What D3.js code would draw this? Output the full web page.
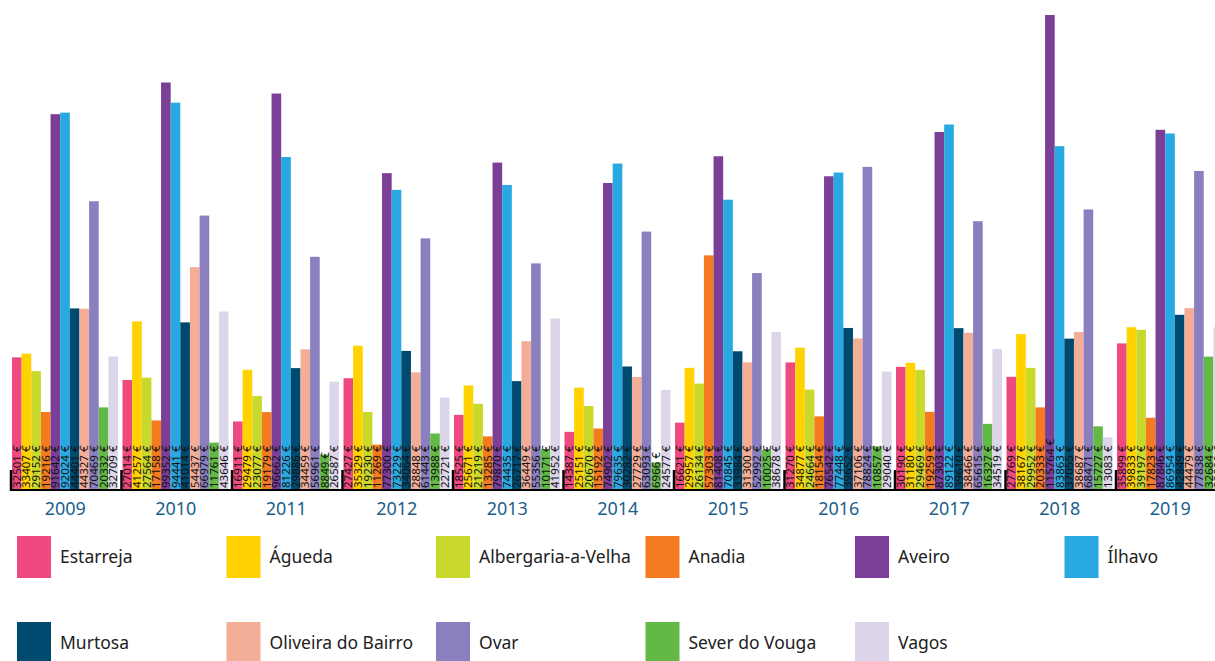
<!DOCTYPE html>
<html>
<head>
<meta charset="utf-8">
<script src="https://cdn.jsdelivr.net/npm/d3@7"></script>
<style>
  html, body { margin: 0; padding: 0; background: #fff; overflow: hidden; }
  svg { display: block; }
</style>
</head>
<body>
<svg id="chart" width="1215" height="661"></svg>
<script>
// Years on the category axis
const years = ["2009", "2010", "2011", "2012", "2013", "2014", "2015", "2016", "2017", "2018", "2019"];

// Municipalities (one bar per municipality in each year)
const municipalities = ["Estarreja", "Águeda", "Albergaria-a-Velha", "Anadia", "Aveiro", "Ílhavo",
  "Murtosa", "Oliveira do Bairro", "Ovar", "Sever do Vouga", "Vagos"];

const colors = ["#ee4a80", "#ffd200", "#c9d92b", "#f47b20", "#7b3f98", "#29a9e1",
  "#004a6f", "#f4ae98", "#8a7fbf", "#63b946", "#ddd6ea"];

// Values in euros, one array per municipality, ordered by year
const estarreja   = [32501, 27014, 16911, 27427, 18525, 14387, 16621, 31270, 30190, 27769, 35899];
const agueda      = [33407, 41257, 29479, 35329, 25671, 25151, 29957, 34877, 31180, 38167, 39833];
const albergaria  = [29152, 27564, 23077, 19230, 21219, 20670, 26134, 24664, 29469, 29952, 39197];
const anadia      = [19216, 17158, 19179, 11269, 13285, 15192, 57303, 18154, 19259, 20333, 17823];
const aveiro      = [91642, 99352, 96662, 77300, 79870, 74902, 81408, 76542, 87303, 115764, 87846];
const ilhavo      = [92024, 94441, 81226, 73229, 74435, 79635, 70845, 77448, 89122, 83863, 86954];
const murtosa     = [44401, 41014, 29886, 34064, 26717, 30282, 33984, 39652, 39610, 37055, 42849];
const oliveira    = [44327, 54437, 34459, 28848, 36449, 27729, 31300, 37106, 38466, 38687, 44479];
const ovar        = [70469, 66979, 56961, 61443, 55356, 63093, 52992, 78824, 65615, 68471, 77838];
const sever       = [20332, 11761, 8849, 13988, 10171, 6966, 10025, 10857, 16327, 15727, 32684];
const vagos       = [32709, 43646, 26587, 22721, 41952, 24577, 38678, 29040, 34519, 13083, 39800];

const seriesValues = [estarreja, agueda, albergaria, anadia, aveiro, ilhavo,
  murtosa, oliveira, ovar, sever, vagos];

const svg = d3.select("#chart");
const font = "'Noto Sans', 'DejaVu Sans', sans-serif";

const axisY = 490;
const x0 = d3.scaleBand().domain(years).range([10, 10 + years.length * 110.5]).padding(0);
const x1 = d3.scaleBand().domain(municipalities).range([2, x0.bandwidth() - 2.5]).padding(0);
const y = d3.scaleLinear().domain([0, 115764]).range([491, 15]);

const rows = [];
years.forEach((yr, yi) => {
  municipalities.forEach((m, mi) => {
    rows.push({ year: yr, muni: m, mi, value: seriesValues[mi][yi] });
  });
});

// Bars
const g = svg.append("g");
g.selectAll("rect.bar")
  .data(rows)
  .join("rect")
  .attr("class", "bar")
  .attr("x", d => x0(d.year) + x1(d.muni))
  .attr("y", d => y(d.value))
  .attr("width", x1.bandwidth())
  .attr("height", d => y(0) - y(d.value))
  .attr("fill", d => colors[d.mi]);

// Value labels, rotated and anchored at the bottom of each bar
g.selectAll("text.val")
  .data(rows)
  .join("text")
  .attr("class", "val")
  .attr("transform", d => {
    const cx = x0(d.year) + x1(d.muni) + x1.bandwidth() / 2 + 4;
    return `translate(${cx},${axisY - 2}) rotate(-90)`;
  })
  .attr("font-family", font)
  .attr("font-size", 11.5)
  .attr("fill", "#111")
  .text(d => `${d.value} €`);

// Axis line and group separators
const axis = svg.append("g");
axis.append("line")
  .attr("x1", 10).attr("x2", 1215)
  .attr("y1", axisY).attr("y2", axisY)
  .attr("stroke", "#000").attr("stroke-width", 2);
axis.selectAll("line.sep")
  .data(years)
  .join("line")
  .attr("class", "sep")
  .attr("x1", d => x0(d) + 1).attr("x2", d => x0(d) + 1)
  .attr("y1", axisY - 20).attr("y2", axisY + 1)
  .attr("stroke", "#000").attr("stroke-width", 2.5);

// Year labels
axis.selectAll("text.year")
  .data(years)
  .join("text")
  .attr("class", "year")
  .attr("x", d => x0(d) + x0.bandwidth() / 2)
  .attr("y", 515)
  .attr("text-anchor", "middle")
  .attr("font-family", font)
  .attr("font-size", 18)
  .attr("fill", "#1b5f8c")
  .text(d => d);

// Legend: two rows of six
const legend = svg.append("g");
const item = legend.selectAll("g.item")
  .data(municipalities)
  .join("g")
  .attr("class", "item")
  .attr("transform", (d, i) => `translate(${10 + (i % 6) * 209.5},${536 + Math.floor(i / 6) * 86})`);
item.append("rect")
  .attr("x", 7).attr("y", 0)
  .attr("width", 34).attr("height", 42)
  .attr("fill", (d, i) => colors[i]);
item.append("text")
  .attr("x", 50).attr("y", 21)
  .attr("dy", "0.35em")
  .attr("font-family", font)
  .attr("font-size", 17.5)
  .attr("fill", "#222")
  .text(d => d);
</script>
</body>
</html>
